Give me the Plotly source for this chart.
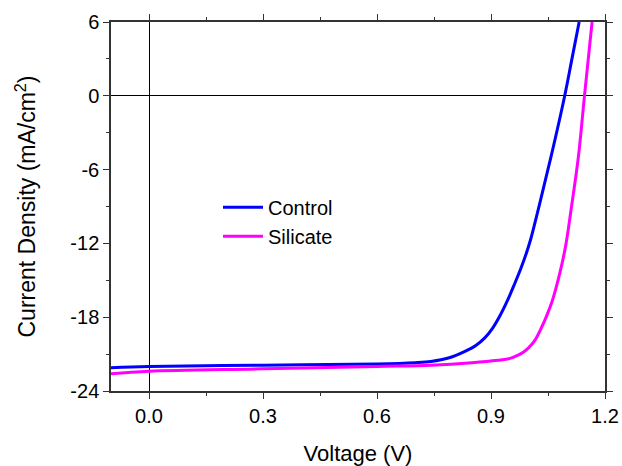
import plotly.graph_objects as go

# Control J-V curve
control_v = [-0.1, 0.0, 0.3, 0.6, 0.7, 0.742, 0.79, 0.83, 0.86, 0.883, 0.904, 0.925, 0.944, 0.962, 0.979, 0.993, 1.005, 1.027, 1.058, 1.094, 1.113, 1.132]
control_j = [-22.1, -22.0, -21.9, -21.8, -21.7, -21.6, -21.3, -20.8, -20.3, -19.7, -18.9, -17.8, -16.6, -15.3, -14.0, -12.8, -11.6, -8.9, -4.95, 0.0, 3.0, 6.0]

# Silicate J-V curve
silicate_v = [-0.1, 0.0, 0.3, 0.6, 0.742, 0.85, 0.918, 0.95, 0.97, 0.985, 1.0, 1.015, 1.032, 1.047, 1.062, 1.082, 1.097, 1.111, 1.130, 1.146, 1.166]
silicate_j = [-22.6, -22.4, -22.2, -22.0, -21.9, -21.7, -21.5, -21.35, -21.1, -20.85, -20.45, -19.9, -18.9, -17.85, -16.6, -14.3, -12.1, -9.2, -4.95, 0.0, 6.0]

x_ticks = [0.0, 0.3, 0.6, 0.9, 1.2]
x_labels = ["0.0", "0.3", "0.6", "0.9", "1.2"]
y_ticks = [-24, -18, -12, -6, 0, 6]
y_labels = ["-24", "-18", "-12", "-6", "0", "6"]

fig = go.Figure()
fig.add_trace(go.Scatter(x=control_v, y=control_j, mode="lines", name="Control",
                         line=dict(color="#0000FF", width=3, shape="spline", smoothing=1.0),
                         legendgroup="a"))
fig.add_trace(go.Scatter(x=silicate_v, y=silicate_j, mode="lines", name="Silicate",
                         line=dict(color="#FF00FF", width=3, shape="spline", smoothing=1.0),
                         legendgroup="b"))

axis_common = dict(
    showline=True, linecolor="#333333", linewidth=1.5, mirror="ticks",
    ticks="outside", ticklen=6, tickwidth=1.2, tickcolor="#333333",
    showgrid=False, zeroline=True, zerolinecolor="#000000", zerolinewidth=1,
    automargin=False,
    tickfont=dict(family="Liberation Sans, Arial, sans-serif", size=20, color="#000000"),
)

fig.update_layout(
    width=622, height=466,
    margin=dict(l=111, r=17, t=22, b=75),
    paper_bgcolor="white", plot_bgcolor="white",
    font=dict(family="Liberation Sans, Arial, sans-serif", color="#000000"),
    xaxis=dict(range=[-0.1, 1.2], tickvals=x_ticks, ticktext=x_labels,
               minor=dict(dtick=0.15, tick0=0, ticks="outside", ticklen=3, tickcolor="#333333"),
               title=dict(text="Voltage (V)", font=dict(size=22), standoff=22),
               **axis_common),
    yaxis=dict(range=[-24, 6], tickvals=y_ticks, ticktext=y_labels,
               minor=dict(dtick=3, tick0=0, ticks="outside", ticklen=3, tickcolor="#333333"),
               title=dict(text="Current Density (mA/cm<sup>2</sup>)", font=dict(size=23), standoff=28),
               **axis_common),
    legend=dict(x=0.2166, y=0.551, xanchor="left", yanchor="top",
                bgcolor="rgba(0,0,0,0)", font=dict(size=20),
                tracegroupgap=0, itemwidth=40),
    showlegend=True,
)

fig.write_html("out.html")
